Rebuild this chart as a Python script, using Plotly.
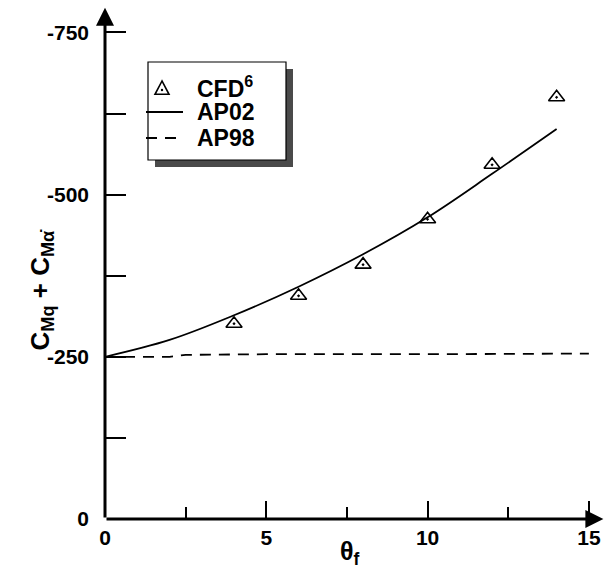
import plotly.graph_objects as go

# ---- data ----
cfd_x = [4, 6, 8, 10, 12, 14]
cfd_y = [-301, -344, -392, -462, -546, -650]

ap02_x = [0, 2, 4, 6, 8, 10, 12, 14]
ap02_y = [-250, -276, -314, -358, -408, -465, -532, -601]

ap98_x = [0, 2, 2.5, 5, 10, 15]
ap98_y = [-250, -250, -253, -254, -254, -255]

x_tick_vals = [0, 5, 10, 15]
x_tick_text = ["0", "5", "10", "15"]
y_tick_vals = [0, -250, -500, -750]
y_tick_text = ["0", "-250", "-500", "-750"]

legend_names = ["CFD<sup>6</sup>", "AP02", "AP98"]

# ---- layout geometry (pixels) ----
W, H = 610, 570
ML, MR, MT, MB = 105, 5, 6, 51
PW, PH = W - ML - MR, H - MT - MB
X_RANGE = [0, 15.5]
Y_RANGE = [0, -790.7]


def px_x(p):
    return (p - ML) / PW


def px_y(p):
    return (H - MB - p) / PH


FONT = "Arial, Liberation Sans, sans-serif"
BOLD = dict(family=FONT, size=21, color="black", weight="bold")

fig = go.Figure()

fig.add_trace(go.Scatter(
    x=cfd_x, y=cfd_y, mode="markers", name=legend_names[0],
    marker=dict(symbol="triangle-up-open-dot", size=14, color="black",
                line=dict(width=1.6, color="black")),
))
fig.add_trace(go.Scatter(
    x=ap02_x, y=ap02_y, mode="lines", name=legend_names[1],
    line=dict(color="black", width=1.8, shape="spline"),
))
fig.add_trace(go.Scatter(
    x=ap98_x, y=ap98_y, mode="lines", name=legend_names[2],
    line=dict(color="black", width=1.8, dash="11px,8px"),
))

# ---- legend box drawn by hand (shadow + framed box) ----
bx0, by0, bx1, by1 = 148, 62, 286, 160
sh = 7
fig.add_shape(type="rect", xref="paper", yref="paper",
              x0=px_x(bx0 + sh), x1=px_x(bx1 + sh), y0=px_y(by1 + sh), y1=px_y(by0 + sh),
              fillcolor="#4a4a4a", line=dict(width=0), layer="above")
fig.add_shape(type="rect", xref="paper", yref="paper",
              x0=px_x(bx0), x1=px_x(bx1), y0=px_y(by1), y1=px_y(by0),
              fillcolor="white", line=dict(width=1.2, color="black"), layer="above")

row_y = [87, 112, 138]
sym_x0, sym_x1, txt_x = 146, 183, 196
tcx, tcy, ts = 162, row_y[0] + 1, 7
fig.add_shape(type="path", xref="paper", yref="paper",
              path=(f"M {px_x(tcx)},{px_y(tcy - ts)} L {px_x(tcx - ts)},{px_y(tcy + ts * 0.9)} "
                    f"L {px_x(tcx + ts)},{px_y(tcy + ts * 0.9)} Z"),
              line=dict(color="black", width=1.6), fillcolor="white", layer="above")
fig.add_shape(type="circle", xref="paper", yref="paper",
              x0=px_x(tcx - 1.2), x1=px_x(tcx + 1.2), y0=px_y(tcy + 3.2), y1=px_y(tcy + 0.8),
              fillcolor="black", line=dict(width=0), layer="above")
fig.add_shape(type="line", xref="paper", yref="paper",
              x0=px_x(sym_x0), x1=px_x(sym_x1), y0=px_y(row_y[1]), y1=px_y(row_y[1]),
              line=dict(color="black", width=1.8), layer="above")
fig.add_shape(type="line", xref="paper", yref="paper",
              x0=px_x(sym_x0), x1=px_x(sym_x1), y0=px_y(row_y[2]), y1=px_y(row_y[2]),
              line=dict(color="black", width=1.8, dash="11px,8px"), layer="above")
for name, ry in zip(legend_names, row_y):
    fig.add_annotation(x=px_x(txt_x), y=px_y(ry), xref="paper", yref="paper",
                       text=name, showarrow=False, xanchor="left", yanchor="middle",
                       height=24, valign="middle", borderpad=0,
                       font=dict(family=FONT, size=23, color="black", weight="bold"))

# ---- axes with arrows ----
fig.add_annotation(x=15.45, y=0, ax=0, ay=0, xref="x", yref="y",
                   axref="x", ayref="y", text="", showarrow=True,
                   arrowhead=2, arrowsize=1.2, arrowwidth=3, arrowcolor="black")
fig.add_annotation(x=0, y=-788, ax=0, ay=0, xref="x", yref="y",
                   axref="x", ayref="y", text="", showarrow=True,
                   arrowhead=2, arrowsize=1.2, arrowwidth=3, arrowcolor="black")

# ---- axis titles ----
fig.add_annotation(x=px_x(22), y=px_y(290), xref="paper", yref="paper",
                   text="C<sub>Mq</sub> + C<sub>Mα̇</sub>", textangle=-90,
                   showarrow=False,
                   font=dict(family=FONT, size=26, color="black", weight="bold"))
fig.add_annotation(x=px_x(350), y=px_y(570), xref="paper", yref="paper",
                   text="θ<sub>f</sub>", showarrow=False,
                   xanchor="center", yanchor="bottom", borderpad=0,
                   font=dict(family=FONT, size=25, color="black", weight="bold"))

fig.update_layout(
    width=W, height=H, autosize=False,
    margin=dict(l=ML, r=MR, t=MT, b=MB),
    paper_bgcolor="white", plot_bgcolor="white",
    font=BOLD,
    showlegend=False,
    xaxis=dict(range=X_RANGE, showgrid=False, zeroline=False, showline=False,
               tickvals=x_tick_vals, ticktext=x_tick_text, tickfont=BOLD,
               ticks="inside", ticklen=18, tickwidth=1.5, tickcolor="black",
               ticklabelstandoff=4,
               minor=dict(ticks="inside", ticklen=12, tickwidth=1.5,
                          tickcolor="black", dtick=2.5, tick0=0, showgrid=False)),
    yaxis=dict(range=Y_RANGE, showgrid=False, zeroline=False, showline=False,
               tickvals=y_tick_vals, ticktext=y_tick_text, tickfont=BOLD,
               ticks="inside", ticklen=21, tickwidth=1.5, tickcolor="black",
               ticklabelstandoff=15,
               minor=dict(ticks="inside", ticklen=21, tickwidth=1.5,
                          tickcolor="black", dtick=125, tick0=0, showgrid=False)),
)

fig.write_html("out.html", config={"displayModeBar": False},
               post_script="document.body.style.margin='0px';")
